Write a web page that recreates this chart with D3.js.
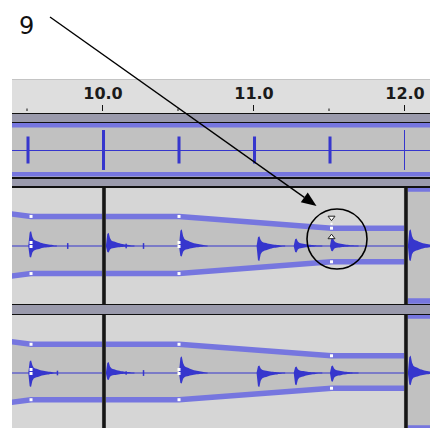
<!DOCTYPE html>
<html><head><meta charset="utf-8">
<script src="https://cdn.jsdelivr.net/npm/d3@7"></script>
<style>html,body{margin:0;padding:0;background:#fff;}svg{display:block;}</style>
</head><body><svg id="c" width="430" height="428"></svg>
<script>
// ---------------- data ----------------
const majorTicks = [10, 11, 12];
const tickLabels = ["10.0", "11.0", "12.0"];
const minorTicks = [9.5, 10.5, 11.5];

// click track (track 1)
const clickTimes = [9.5, 10.0, 10.5, 11.0, 11.5, 12.0];
const clickAmps  = [0.5, 0.74, 0.5, 0.5, 0.5, 0.74];
const clickDurs  = [0.02, 0.02, 0.02, 0.02, 0.02, 0.006];

// drum hits (tracks 2 and 3)
const hitTimes   = [9.512, 10.026, 10.51, 11.024, 11.27, 11.51, 12.026];
const track2Up   = [0.26, 0.23, 0.29, 0.17, 0.13, 0.15, 0.29];
const track2Down = [0.20, 0.11, 0.18, 0.26, 0.11, 0.09, 0.26];
const track3Up   = [0.22, 0.19, 0.29, 0.13, 0.11, 0.13, 0.30];
const track3Down = [0.24, 0.12, 0.18, 0.24, 0.21, 0.15, 0.21];
const hitShapeMax = [0, 0.9, 1.0, 0.6, 0.42, 0.36, 0.33, 0.3, 0.26, 0.22, 0.2, 0.17, 0.15, 0.13, 0.12, 0.1, 0.09, 0.08, 0.06, 0.04, 0.02, 0];
const hitShapeMin = [0, -0.95, -1.0, -0.55, -0.4, -0.34, -0.3, -0.28, -0.25, -0.21, -0.18, -0.16, -0.14, -0.12, -0.11, -0.1, -0.08, -0.07, -0.05, -0.04, -0.02, 0];
const blipTimes2 = [9.768, 10.155, 10.27];
const blipAmps2  = [0.05, 0.04, 0.05];
const blipTimes3 = [9.7, 10.155, 10.27];
const blipAmps3  = [0.04, 0.03, 0.05];

// clip boundaries and envelopes
const clipBounds = [10.013, 12.013];
const envTimes = [9.38, 9.53, 10.51, 11.52, 12.0];
const env2 = [0.56, 0.51, 0.51, 0.3, 0.3];
const env3 = [0.55, 0.495, 0.495, 0.29, 0.29];
const env2Points = [9.53, 10.51, 11.52];
const env3Points = [9.53, 10.51, 11.52];

const annotationLabel = "9";

// ---------------- drawing ----------------
const svg = d3.select("#c");
const W = 430, X0 = 12;
const x = d3.scaleLinear().domain([10, 12]).range([102, 404]);
const tx = d => x(d);

svg.append("defs").append("clipPath").attr("id", "area")
  .append("rect").attr("x", X0).attr("y", 0).attr("width", W - X0).attr("height", 428);
const g = svg.append("g").attr("clip-path", "url(#area)");

const LIGHT = "#d6d6d6", DARK = "#c1c1c1", BAND = "#7676df", WAVE = "#3636cd",
      BORDER = "#9a9aac", EDGE = "#111";

// ruler
g.append("rect").attr("x", X0).attr("y", 79).attr("width", W).attr("height", 1).attr("fill", "#c4c4c4");
g.append("rect").attr("x", X0).attr("y", 80).attr("width", W).attr("height", 33).attr("fill", "#dedede");
g.selectAll(".maj").data(majorTicks).join("line")
  .attr("x1", d => tx(d) + 0.5).attr("x2", d => tx(d) + 0.5)
  .attr("y1", 105).attr("y2", 111).attr("stroke", "#111").attr("stroke-width", 1);
g.selectAll(".min").data(minorTicks).join("line")
  .attr("x1", d => tx(d) + 0.5).attr("x2", d => tx(d) + 0.5)
  .attr("y1", 108.5).attr("y2", 111).attr("stroke", "#111").attr("stroke-width", 1);
g.selectAll(".lab").data(majorTicks).join("text")
  .attr("x", d => tx(d) + 1).attr("y", 99).attr("text-anchor", "middle")
  .attr("font-family", "DejaVu Sans").attr("font-weight", "bold").attr("font-size", 16)
  .attr("fill", "#1a1a1a").text((d, i) => tickLabels[i]);

// track separators
function hband(y, h, c) { g.append("rect").attr("x", X0).attr("y", y).attr("width", W).attr("height", h).attr("fill", c); }
hband(113, 1, EDGE); hband(114, 8, BORDER); hband(122, 1, EDGE);
hband(177, 2, EDGE); hband(179, 7, BORDER); hband(186, 2, EDGE);
hband(304, 1, EDGE); hband(305, 9, BORDER); hband(314, 1, EDGE);

// ---- track 1 : click track
{
  const top = 123, h = 54;
  const y = d3.scaleLinear().domain([-1, 1]).range([top + h, top]);
  g.append("rect").attr("x", X0).attr("y", top).attr("width", W).attr("height", h).attr("fill", DARK);
  g.append("rect").attr("x", X0).attr("y", top).attr("width", W).attr("height", 4.5).attr("fill", BAND);
  g.append("rect").attr("x", X0).attr("y", top + h - 5).attr("width", W).attr("height", 4.5).attr("fill", BAND);
  g.append("line").attr("x1", X0).attr("x2", W).attr("y1", y(0) + 0.5).attr("y2", y(0) + 0.5)
    .attr("stroke", WAVE).attr("stroke-width", 1);
  g.selectAll(".click").data(clickTimes).join("rect")
    .attr("x", d => tx(d)).attr("width", (d, i) => Math.max(1, tx(d + clickDurs[i]) - tx(d)))
    .attr("y", (d, i) => y(clickAmps[i])).attr("height", (d, i) => y(-clickAmps[i]) - y(clickAmps[i]))
    .attr("fill", WAVE);
}

// ---- tracks 2 and 3 : drum tracks
function drumTrack(top, h, envVals, up, down, blipT, blipA, envPts, markers) {
  const y = d3.scaleLinear().domain([-1, 1]).range([top + h, top]);
  const ey = d3.scaleLinear().domain([-1, 1]).range([top + h - 3, top + 1]);
  const tg = g.append("g");
  const tclip = "tc" + top;
  svg.select("defs").append("clipPath").attr("id", tclip)
    .append("rect").attr("x", X0).attr("y", top).attr("width", W).attr("height", h);
  tg.attr("clip-path", "url(#" + tclip + ")");
  const b2 = tx(clipBounds[1]);
  tg.append("rect").attr("x", X0).attr("y", top).attr("width", W).attr("height", h).attr("fill", LIGHT);
  const env = envTimes.map((t, i) => ({ t, v: envVals[i] }));
  tg.append("path").datum(env)
    .attr("d", d3.area().x(d => tx(d.t)).y0(d => ey(-d.v)).y1(d => ey(d.v)))
    .attr("fill", DARK);
  tg.append("rect").attr("x", b2).attr("y", top).attr("width", W - b2).attr("height", h).attr("fill", DARK);
  tg.append("line").attr("x1", X0).attr("x2", W).attr("y1", y(0)).attr("y2", y(0))
    .attr("stroke", WAVE).attr("stroke-width", 1.1);
  const area = d3.area().x(d => tx(d.t)).y0(d => y(d.lo)).y1(d => y(d.hi));
  hitTimes.forEach((ht, i) => {
    const pts = hitShapeMax.map((m, k) => ({ t: ht + k * 0.009, hi: Math.max(m * up[i], 0.01), lo: Math.min(hitShapeMin[k] * down[i], -0.01) }));
    tg.append("path").datum(pts).attr("d", area).attr("fill", WAVE);
  });
  blipT.forEach((bt, i) => {
    tg.append("rect").attr("x", tx(bt)).attr("width", 1.5)
      .attr("y", y(blipA[i])).attr("height", y(-blipA[i]) - y(blipA[i])).attr("fill", WAVE);
  });
  const line = d3.line().x(d => tx(d.t));
  tg.append("path").datum(env).attr("d", line.y(d => ey(d.v))).attr("fill", "none")
    .attr("stroke", BAND).attr("stroke-width", 5.5);
  tg.append("path").datum(env).attr("d", line.y(d => ey(-d.v))).attr("fill", "none")
    .attr("stroke", BAND).attr("stroke-width", 5.5);
  tg.append("rect").attr("x", b2).attr("y", ey(1) - 2.75).attr("width", W).attr("height", 5.5).attr("fill", BAND);
  tg.append("rect").attr("x", b2).attr("y", ey(-1) - 2.75).attr("width", W).attr("height", 5.5).attr("fill", BAND);
  clipBounds.forEach(b => {
    tg.append("rect").attr("x", tx(b) - 2).attr("y", top).attr("width", 4).attr("height", h).attr("fill", "#3a3a3a");
    tg.append("rect").attr("x", tx(b) - 1).attr("y", top).attr("width", 2).attr("height", h).attr("fill", "#151515");
  });
  envPts.forEach(pt => {
    const v = envVals[envTimes.indexOf(pt)];
    const px = tx(pt);
    [ey(v), ey(-v)].forEach(py => {
      tg.append("rect").attr("x", px - 1.5).attr("y", py - 1.5).attr("width", 3).attr("height", 3).attr("fill", "#fff");
    });
    if (pt < 11) {
      [y(0) - 3.5, y(0) + 0.5].forEach(py => {
        tg.append("rect").attr("x", px - 1.5).attr("y", py - 1.5).attr("width", 3).attr("height", 3).attr("fill", "#fff");
      });
    }
  });
  if (markers) {
    const v = envVals[envTimes.indexOf(11.52)];
    const px = tx(11.52), py = ey(v);
    tg.append("path").attr("d", `M${px - 3.5},${py - 12} L${px + 3.5},${py - 12} L${px},${py - 7.5} Z`)
      .attr("fill", "#fff").attr("stroke", "#222").attr("stroke-width", 1);
    tg.append("rect").attr("x", px - 1).attr("y", py - 5.5).attr("width", 2).attr("height", 2).attr("fill", "#fff");
    tg.append("path").attr("d", `M${px - 3.5},${py + 10.5} L${px + 3.5},${py + 10.5} L${px},${py + 6} Z`)
      .attr("fill", "#fff").attr("stroke", "#222").attr("stroke-width", 1);
  }
}
drumTrack(188, 116, env2, track2Up, track2Down, blipTimes2, blipAmps2, env2Points, true);
drumTrack(315, 116, env3, track3Up, track3Down, blipTimes3, blipAmps3, env3Points, false);

// ---- annotation
svg.append("text").attr("x", 19).attr("y", 34).attr("font-family", "DejaVu Sans")
  .attr("font-size", 24).attr("fill", "#111").text(annotationLabel);
const ax1 = 50, ay1 = 17, ax2 = 316.5, ay2 = 206;
const ang = Math.atan2(ay2 - ay1, ax2 - ax1), L = 15, Hw = 6;
const bx = ax2 - L * Math.cos(ang), by = ay2 - L * Math.sin(ang);
svg.append("line").attr("x1", ax1).attr("y1", ay1).attr("x2", bx).attr("y2", by)
  .attr("stroke", "#000").attr("stroke-width", 1.4);
svg.append("path").attr("d",
  `M${ax2},${ay2} L${bx + Hw * Math.sin(ang)},${by - Hw * Math.cos(ang)} L${bx - Hw * Math.sin(ang)},${by + Hw * Math.cos(ang)} Z`)
  .attr("fill", "#000");
svg.append("circle").attr("cx", 337).attr("cy", 239).attr("r", 30)
  .attr("fill", "none").attr("stroke", "#000").attr("stroke-width", 1.6);
</script></body></html>
